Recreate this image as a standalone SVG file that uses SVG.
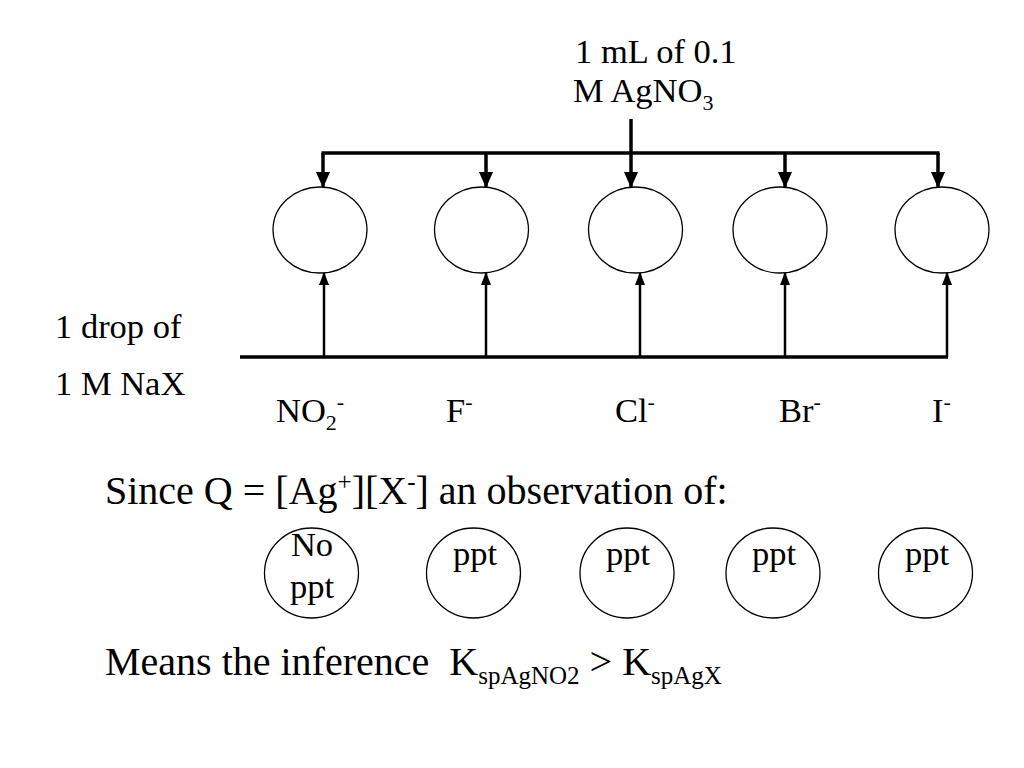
<svg xmlns="http://www.w3.org/2000/svg" width="1024" height="768" viewBox="0 0 1024 768">
<defs>
<style>
text{font-family:"Liberation Serif","Times New Roman",serif;fill:#000}
.t34{font-size:34.5px}
.t40{font-size:40px}
.sub{font-size:22px}
.sub2{font-size:25px}
.node{fill:#fff;stroke:#000;stroke-width:1.3}
.thick{stroke:#000;stroke-width:3.5;fill:none}
.thin{stroke:#000;stroke-width:2.5;fill:none}
</style>
<marker id="down" markerUnits="userSpaceOnUse" markerWidth="14" markerHeight="16" refX="7" refY="15" viewBox="0 0 14 16">
<path d="M0,0 L14,0 L7,16 Z" fill="#000"/>
</marker>
<marker id="up" markerUnits="userSpaceOnUse" markerWidth="10" markerHeight="13" refX="5" refY="1" viewBox="0 0 10 13">
<path d="M5,0 L10,13 L0,13 Z" fill="#000"/>
</marker>
</defs>
<rect width="1024" height="768" fill="#fff"/>

<g id="connectors">
<line class="thick" x1="631" y1="119" x2="631" y2="153"/>
<line class="thick" x1="321.5" y1="153" x2="939.5" y2="153"/>
<line class="thick" x1="323" y1="153" x2="323" y2="187" marker-end="url(#down)"/>
<line class="thick" x1="486" y1="153" x2="486" y2="187" marker-end="url(#down)"/>
<line class="thick" x1="631" y1="153" x2="631" y2="187" marker-end="url(#down)"/>
<line class="thick" x1="785" y1="153" x2="785" y2="187" marker-end="url(#down)"/>
<line class="thick" x1="938" y1="153" x2="938" y2="187" marker-end="url(#down)"/>
<line class="thick" x1="240" y1="357" x2="948" y2="357"/>
<line class="thin" x1="324" y1="357" x2="324" y2="273" marker-end="url(#up)"/>
<line class="thin" x1="486" y1="357" x2="486" y2="273" marker-end="url(#up)"/>
<line class="thin" x1="640" y1="357" x2="640" y2="273" marker-end="url(#up)"/>
<line class="thin" x1="785" y1="357" x2="785" y2="273" marker-end="url(#up)"/>
<line class="thin" x1="947" y1="357" x2="947" y2="273" marker-end="url(#up)"/>
</g>

<g id="source-agno3">
<text class="t34" x="575" y="63">1 mL of 0.1</text>
<text class="t34" x="573" y="102">M AgNO<tspan class="sub" dy="8">3</tspan></text>
</g>
<g id="source-nax">
<text class="t34" x="55" y="338">1 drop of</text>
<text class="t34" x="55" y="395">1 M NaX</text>
</g>

<g id="tube1"><ellipse class="node" cx="320" cy="230" rx="47" ry="43"/></g>
<g id="tube2"><ellipse class="node" cx="481.5" cy="230" rx="47" ry="43"/></g>
<g id="tube3"><ellipse class="node" cx="635.5" cy="230" rx="47" ry="43"/></g>
<g id="tube4"><ellipse class="node" cx="780" cy="230" rx="47" ry="43"/></g>
<g id="tube5"><ellipse class="node" cx="942" cy="230" rx="47" ry="43"/></g>

<g id="labels">
<text class="t34" x="276" y="422">NO<tspan class="sub" dy="8">2</tspan><tspan class="sub" dy="-21">-</tspan></text>
<text class="t34" x="446" y="422">F<tspan class="sub" dy="-13">-</tspan></text>
<text class="t34" x="615" y="422">Cl<tspan class="sub" dy="-13">-</tspan></text>
<text class="t34" x="779" y="422">Br<tspan class="sub" dy="-13">-</tspan></text>
<text class="t34" x="932" y="422">I<tspan class="sub" dy="-13">-</tspan></text>
</g>

<g id="since">
<text class="t40" x="105" y="504">Since Q = [Ag<tspan class="sub2" dy="-14">+</tspan><tspan dy="14">][X</tspan><tspan class="sub2" dy="-14">-</tspan><tspan dy="14">] an observation of:</tspan></text>
</g>

<g id="obs1"><ellipse class="node" cx="311.5" cy="573" rx="47" ry="45"/>
<text class="t34" x="312" y="556" text-anchor="middle">No</text>
<text class="t34" x="312" y="598" text-anchor="middle">ppt</text></g>
<g id="obs2"><ellipse class="node" cx="473.5" cy="573" rx="47" ry="45"/>
<text class="t34" x="475" y="565" text-anchor="middle">ppt</text></g>
<g id="obs3"><ellipse class="node" cx="627" cy="573" rx="47" ry="45"/>
<text class="t34" x="628" y="565" text-anchor="middle">ppt</text></g>
<g id="obs4"><ellipse class="node" cx="773" cy="573" rx="47" ry="45"/>
<text class="t34" x="774" y="565" text-anchor="middle">ppt</text></g>
<g id="obs5"><ellipse class="node" cx="925.5" cy="573" rx="47" ry="45"/>
<text class="t34" x="927" y="565" text-anchor="middle">ppt</text></g>

<g id="inference">
<text class="t40" x="105" y="675" xml:space="preserve">Means the inference  K<tspan class="sub2" dy="9">spAgNO2</tspan><tspan dy="-9"> &gt; K</tspan><tspan class="sub2" dy="9">spAgX</tspan></text>
</g>
</svg>
